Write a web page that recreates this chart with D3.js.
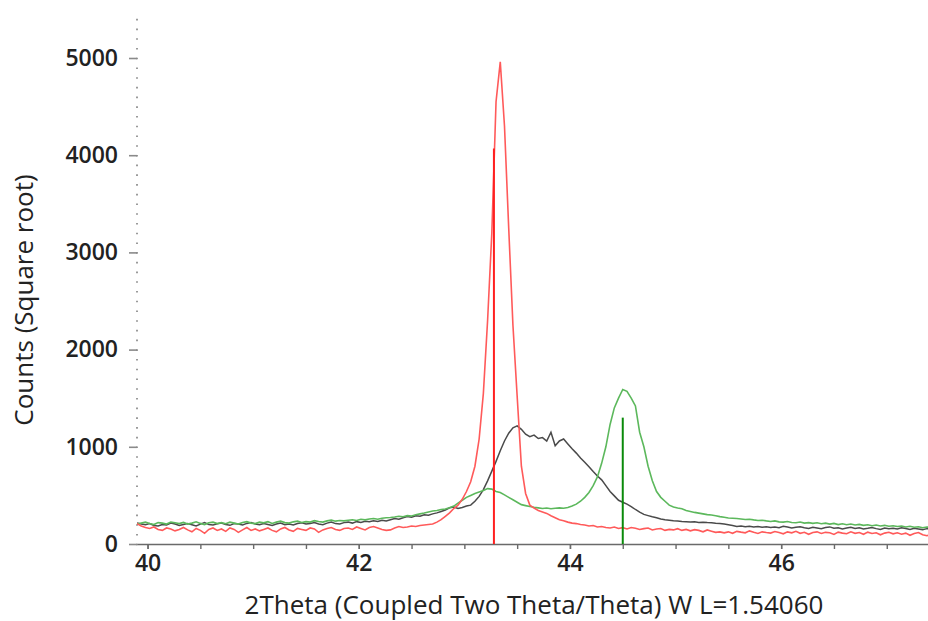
<!DOCTYPE html>
<html>
<head>
<meta charset="utf-8">
<script src="https://cdn.jsdelivr.net/npm/d3@7"></script>
<style>
body { margin: 0; background: #fff; }
text { font-family: "Open Sans", sans-serif; fill: #222; }
</style>
</head>
<body>
<svg id="chart" width="928" height="621"></svg>
<script>
// scan grid of the measurement (2Theta, degrees)
var scanStart = 39.90, scanStep = 0.04;

// counts per step
var countsBlack = [
    215, 205, 198, 210, 190, 185, 200, 195, 215, 205,
    190, 200, 210, 198, 185, 205, 220, 200, 195, 208,
    215, 200, 192, 210, 205, 195, 212, 220, 205, 198,
    210, 200, 190, 205, 215, 198, 205, 195, 210, 218,
    205, 212, 220, 205, 198, 215, 225, 210, 205, 220,
    225, 215, 230, 222, 235, 228, 240, 232, 245, 238,
    250, 262, 255, 270, 282, 275, 290, 285, 300, 295,
    310, 320, 335, 350, 372, 380, 365, 375, 390, 400,
    440, 490, 560, 650, 750, 850, 960, 1060, 1140, 1195,
    1215, 1180, 1130, 1105, 1120, 1085, 1095, 1060, 1150, 1010,
    1060, 1080, 1030, 980, 935, 885, 840, 795, 745, 700,
    660, 600, 540, 495, 450, 430, 410, 385, 355, 328,
    305, 292, 280, 270, 258, 250, 245, 240, 236, 232,
    230, 226, 228, 222, 225, 220, 218, 214, 212, 205,
    198, 190, 180, 185, 178, 182, 175, 180, 172, 178,
    170, 176, 168, 182, 175, 165, 172, 178, 168, 160,
    172, 165, 158, 170, 176, 162, 168, 155, 165, 172,
    160, 168, 155, 162, 170, 158, 150, 165, 158, 162,
    155, 168, 160, 150, 162, 155, 148, 158, 152];

var countsRed = [
    210, 185, 170, 160, 175, 150, 140, 165, 155, 135,
    150, 170, 145, 125, 160, 140, 110, 150, 165, 140,
    155, 130, 165, 150, 120, 145, 170, 140, 155, 135,
    150, 165, 140, 125, 155, 170, 145, 130, 160, 150,
    140, 165, 155, 120, 145, 160, 170, 150, 140, 160,
    165, 150, 175, 160, 145, 170, 180, 165, 150, 140,
    145, 165, 180, 170, 175, 185, 180, 190, 195, 200,
    205, 225, 250, 285, 320, 365, 400, 460, 540, 640,
    800, 1080, 1550, 2300, 3200, 4550, 4960, 4300, 3250, 2250,
    1520, 800, 520, 400, 370, 345, 330, 315, 290, 270,
    250, 240, 225, 215, 210, 200, 195, 185, 190, 175,
    180, 170, 165, 175, 160, 168, 155, 170, 162, 150,
    158, 165, 145, 155, 160, 140, 150, 145, 158, 140,
    150, 135, 148, 140, 125, 145, 132, 120, 125, 115,
    125, 110, 130, 122, 115, 135, 120, 108, 125, 118,
    112, 128, 118, 105, 125, 115, 130, 110, 120, 100,
    118, 125, 108, 120, 115, 98, 122, 112, 105, 125,
    110, 118, 100, 122, 108, 115, 95, 112, 120, 105,
    115, 100, 112, 90, 108, 118, 95, 85, 100];

var countsGreen = [
    205, 215, 225, 210, 200, 220, 215, 205, 225, 218,
    210, 222, 205, 215, 228, 212, 200, 218, 225, 210,
    220, 208, 225, 215, 205, 222, 230, 215, 210, 225,
    218, 230, 212, 225, 235, 220, 215, 228, 235, 222,
    230, 225, 240, 232, 225, 238, 245, 235, 242, 238,
    245, 250, 242, 255, 248, 258, 262, 255, 265, 270,
    272, 278, 285, 280, 292, 288, 300, 310, 318, 330,
    340, 345, 355, 360, 372, 390, 420, 450, 480, 500,
    520, 535, 550, 570, 565, 540, 530, 505, 480, 455,
    430, 405, 395, 385, 378, 372, 365, 370, 362, 368,
    372, 368, 375, 390, 410, 440, 480, 530, 600, 690,
    830, 1000, 1230, 1400, 1500, 1590, 1570, 1500, 1420, 1150,
    1000, 800, 650, 540, 480, 440, 400, 380, 370, 362,
    345, 335, 325, 318, 310, 302, 298, 290, 282, 275,
    268, 265, 262, 258, 252, 255, 248, 242, 245, 238,
    232, 238, 228, 225, 232, 222, 218, 226, 215, 220,
    212, 218, 208, 215, 205, 212, 200, 208, 198, 205,
    195, 202, 192, 198, 188, 195, 185, 192, 182, 188,
    180, 185, 175, 182, 172, 178, 168, 175, 170];

// reference pattern sticks
var stickPos = [43.28, 44.50];
var stickCounts = [4070, 1300];

var yTicks = [0, 1000, 2000, 3000, 4000, 5000];
var xTicks = [40, 42, 44, 46];

var svg = d3.select("#chart"),
    width = +svg.attr("width"),
    height = +svg.attr("height");

var x = d3.scaleLinear().domain([39.9, 47.4]).range([137, 929]);
var y = d3.scaleLinear().domain([0, 5000]).range([544, 58]);

svg.append("clipPath").attr("id", "plotclip")
    .append("rect")
    .attr("x", 137).attr("y", 0)
    .attr("width", width - 137).attr("height", y(0));

// y axis: dotted minor ticks + major dashes
var yMinor = svg.append("g")
    .attr("transform", "translate(138,0)")
    .call(d3.axisLeft(y).tickValues(d3.range(0, 5401, 100)).tickSize(2).tickFormat(""));
yMinor.select(".domain").remove();
yMinor.selectAll("line").attr("stroke", "#9a9a9a").attr("stroke-width", 1.6);

var yAxis = svg.append("g")
    .attr("transform", "translate(137,0)")
    .call(d3.axisLeft(y).tickValues(yTicks).tickSize(8).tickPadding(11).tickFormat(d3.format("d")));
yAxis.select(".domain").remove();
yAxis.selectAll("line").attr("stroke", "#8a8a8a").attr("stroke-width", 1.6);
yAxis.selectAll("text")
    .style("font-family", "Open Sans")
    .style("font-weight", 600)
    .style("font-size", "23px")
    .attr("fill", "#222");

// x axis
var xMinor = svg.append("g")
    .attr("transform", "translate(0," + y(0) + ")")
    .call(d3.axisBottom(x).tickValues(d3.range(40, 47.01, 0.5)).tickSize(5).tickSizeOuter(0).tickFormat(""));
xMinor.select(".domain").attr("stroke", "#6a6a6a").attr("stroke-width", 1.6);
xMinor.selectAll("line").attr("stroke", "#6a6a6a").attr("stroke-width", 1.4);

var xAxis = svg.append("g")
    .attr("transform", "translate(0," + y(0) + ")")
    .call(d3.axisBottom(x).tickValues(xTicks).tickSize(5).tickPadding(6).tickFormat(d3.format("d")));
xAxis.select(".domain").remove();
xAxis.selectAll("line").attr("stroke", "#6a6a6a").attr("stroke-width", 1.4);
xAxis.selectAll("text")
    .style("font-family", "Open Sans")
    .style("font-weight", 600)
    .style("font-size", "23px")
    .attr("fill", "#222");

// axis titles
svg.append("text")
    .attr("x", 534).attr("y", 614)
    .attr("text-anchor", "middle")
    .style("font-size", "26px")
    .text("2Theta (Coupled Two Theta/Theta) W L=1.54060");

svg.append("text")
    .attr("transform", "translate(33,300) rotate(-90)")
    .attr("text-anchor", "middle")
    .style("font-size", "26px")
    .text("Counts (Square root)");

// scans
var line = d3.line()
    .x(function(d, i) { return x(scanStart + i * scanStep); })
    .y(function(d) { return y(d); });

var plot = svg.append("g").attr("clip-path", "url(#plotclip)");

plot.append("path").datum(countsBlack)
    .attr("d", line).attr("fill", "none")
    .attr("stroke", "#4a4a4a").attr("stroke-width", 1.5);

plot.append("path").datum(countsGreen)
    .attr("d", line).attr("fill", "none")
    .attr("stroke", "#5cb85c").attr("stroke-width", 1.6);

plot.append("path").datum(countsRed)
    .attr("d", line).attr("fill", "none")
    .attr("stroke", "#ff5a5a").attr("stroke-width", 1.6);

// reference sticks
var stickColors = ["#ff2020", "#0a8a0a"];
plot.selectAll(".stick")
    .data(stickPos)
    .enter().append("line")
    .attr("class", "stick")
    .attr("x1", function(d) { return x(d); })
    .attr("x2", function(d) { return x(d); })
    .attr("y1", y(0))
    .attr("y2", function(d, i) { return y(stickCounts[i]); })
    .attr("stroke", function(d, i) { return stickColors[i]; })
    .attr("stroke-width", 2);
</script>
</body>
</html>
